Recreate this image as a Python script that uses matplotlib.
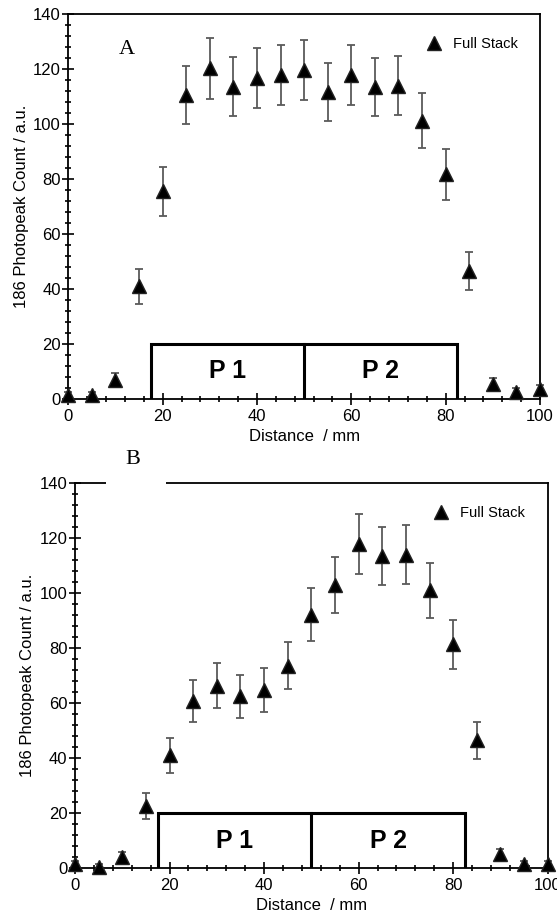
import matplotlib
matplotlib.use("Agg")
import matplotlib.pyplot as plt
from matplotlib.patches import Rectangle
from matplotlib.ticker import MultipleLocator

plt.rcParams['font.family'] = ['Liberation Sans', 'DejaVu Sans']

# ---- data ----
distance = [0, 5, 10, 15, 20, 25, 30, 35, 40, 45, 50,
            55, 60, 65, 70, 75, 80, 85, 90, 95, 100]

counts_a = [1.5, 1.5, 7.0, 41.0, 75.5, 110.5, 120.2, 113.6, 116.8, 117.8, 119.6,
            111.6, 117.8, 113.5, 114.0, 101.2, 81.7, 46.6, 5.5, 2.5, 3.5]
err_a = [1.0, 1.2, 2.5, 6.3, 8.8, 10.5, 11.0, 10.6, 10.8, 10.9, 11.0,
         10.5, 10.9, 10.6, 10.7, 10.0, 9.2, 6.8, 2.0, 1.5, 1.5]

counts_b = [1.5, 0.5, 4.0, 22.5, 41.0, 60.8, 66.3, 62.5, 64.6, 73.6, 92.2,
            102.9, 117.8, 113.5, 114.0, 101.0, 81.3, 46.4, 5.0, 1.5, 1.5]
err_b = [1.0, 1.0, 2.0, 4.8, 6.3, 7.7, 8.2, 7.8, 8.0, 8.6, 9.6,
         10.2, 10.9, 10.6, 10.7, 10.0, 9.0, 6.8, 2.0, 1.0, 1.0]

# detector regions
p_edges = [17.5, 50.0, 82.5]
p_height = 20
p_labels = ["P 1", "P 2"]

series_label = "Full Stack"
xlabel = "Distance  / mm"
ylabel = "186 Photopeak Count / a.u."


def draw_panel(ax, y, yerr):
    ax.errorbar(distance, y, yerr=yerr, fmt='none', ecolor='#5a5a5a',
                elinewidth=1.3, capsize=3, capthick=1.3, zorder=3, clip_on=False)
    ax.plot(distance, y, linestyle='none', marker='^', markersize=9.5,
            color='black', markeredgecolor='#222222', zorder=4, clip_on=False,
            label=series_label)

    # box with the two regions
    ax.plot([p_edges[0], p_edges[0], p_edges[2], p_edges[2]],
            [0, p_height, p_height, 0], color='black', linewidth=2.2,
            zorder=2, solid_joinstyle='miter')
    ax.plot([p_edges[1], p_edges[1]], [0, p_height], color='black',
            linewidth=2.2, zorder=2)
    for i, lab in enumerate(p_labels):
        ax.text((p_edges[i] + p_edges[i + 1]) / 2, p_height / 2, lab,
                ha='center', va='center', fontsize=18, fontweight='bold')

    ax.set_xlim(0, 100)
    ax.set_ylim(0, 140)
    ax.xaxis.set_major_locator(MultipleLocator(20))
    ax.xaxis.set_minor_locator(MultipleLocator(4))
    ax.yaxis.set_major_locator(MultipleLocator(20))
    ax.yaxis.set_minor_locator(MultipleLocator(4))
    ax.tick_params(which='both', direction='inout', width=1.2,
                   labelsize=12, top=False, right=False)
    ax.tick_params(which='major', length=8, pad=1.5)
    ax.tick_params(axis='x', which='major', pad=3.5)
    ax.tick_params(which='minor', length=5)
    for s in ax.spines.values():
        s.set_linewidth(1.3)
    ax.set_xlabel(xlabel, fontsize=12, labelpad=3)
    ax.set_ylabel(ylabel, fontsize=12, labelpad=3)
    ax.legend(loc='upper right', bbox_to_anchor=(0.98, 0.975), frameon=False,
              numpoints=1, handlelength=1.0, handletextpad=0.8, fontsize=10.5)


fig = plt.figure(figsize=(5.57, 9.17), dpi=100)
ax_a = fig.add_axes([0.1226, 0.5649, 0.8469, 0.4198])
ax_b = fig.add_axes([0.1347, 0.0534, 0.8487, 0.4198])

draw_panel(ax_a, counts_a, err_a)
draw_panel(ax_b, counts_b, err_b)

fig.text(0.2280, 0.9460, "A", family='Liberation Serif', fontsize=16,
         ha='center', va='center')
fig.text(0.2380, 0.4984, "B", family='Liberation Serif', fontsize=16,
         ha='center', va='center')
# white patch that breaks the top frame of panel B under the label
fig.add_artist(Rectangle((105.7 / 557, 1 - 487 / 917), 60.3 / 557, 8 / 917,
                         transform=fig.transFigure, facecolor='white',
                         edgecolor='none', zorder=5))

fig.savefig("out.png", dpi=100)
